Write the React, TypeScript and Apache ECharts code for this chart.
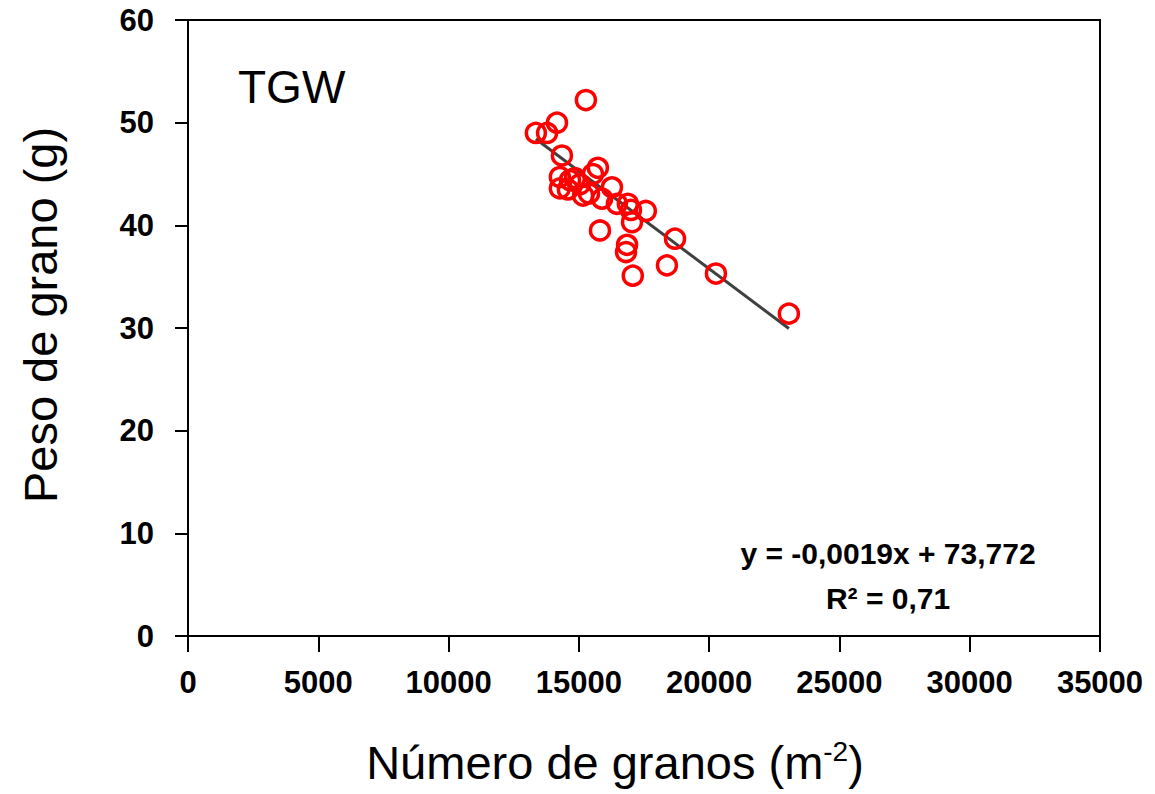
import React, { useEffect, useRef } from "react";
import * as echarts from "echarts";

const grainNumber = [
  13350, 13780, 14160, 15270, 14350, 15730, 15540, 14270, 14660, 14270,
  14580, 15040, 15390, 16270, 15890, 16460, 16880, 17000, 17570, 17040,
  15810, 16850, 16810, 18690, 18380, 17070, 20260, 23060, 15160, 14850,
];
const grainWeight = [
  49.0, 49.0, 50.0, 52.2, 46.8, 45.6, 45.0, 44.7, 44.4, 43.6,
  43.5, 44.0, 43.1, 43.7, 42.6, 42.1, 42.1, 41.5, 41.4, 40.3,
  39.5, 38.1, 37.4, 38.7, 36.1, 35.1, 35.3, 31.4, 42.9, 44.6,
];
const slope = -0.0019;
const intercept = 73.772;
const xTicks = [0, 35000, 5000];
const yTicks = [0, 60, 10];
const eqLine1 = "y = -0,0019x + 73,772";
const eqLine2 = "R² = 0,71";

export default function App() {
  const ref = useRef<HTMLDivElement>(null);
  useEffect(() => {
    if (!ref.current) return;
    const chart = echarts.init(ref.current, undefined, { renderer: "svg" });
    const points = grainNumber.map((x, i) => [x, grainWeight[i]]);
    const xMin = Math.min(...grainNumber);
    const xMax = Math.max(...grainNumber);
    const trend = [
      [xMin, slope * xMin + intercept],
      [xMax, slope * xMax + intercept],
    ];
    const tickFont = {
      fontFamily: "Liberation Sans",
      fontWeight: "bold" as const,
      fontSize: 31,
      color: "#000",
    };
    chart.setOption({
      animation: false,
      backgroundColor: "#fff",
      grid: {
        left: 188,
        right: 55,
        top: 20,
        bottom: 158,
        show: true,
        borderColor: "#000",
        borderWidth: 2,
        backgroundColor: "transparent",
      },
      xAxis: {
        type: "value",
        min: xTicks[0],
        max: xTicks[1],
        interval: xTicks[2],
        axisLine: { show: true, lineStyle: { color: "#000", width: 2 } },
        axisTick: { show: true, inside: false, length: 16, lineStyle: { color: "#000", width: 2 } },
        axisLabel: { ...tickFont, margin: 31, formatter: (v: number) => String(v) },
        splitLine: { show: false },
      },
      yAxis: {
        type: "value",
        min: yTicks[0],
        max: yTicks[1],
        interval: yTicks[2],
        axisLine: { show: true, lineStyle: { color: "#000", width: 2 } },
        axisTick: { show: true, inside: false, length: 13, lineStyle: { color: "#000", width: 2 } },
        axisLabel: { ...tickFont, margin: 34, formatter: (v: number) => String(v) },
        splitLine: { show: false },
      },
      series: [
        {
          type: "line",
          data: trend,
          showSymbol: false,
          symbol: "none",
          lineStyle: { color: "#404040", width: 3 },
          z: 2,
        },
        {
          type: "scatter",
          data: points,
          symbol: "circle",
          symbolSize: 19,
          itemStyle: { color: "transparent", borderColor: "#ff0000", borderWidth: 3.5, opacity: 1 },
          z: 3,
        },
      ],
      graphic: [
        {
          type: "text",
          x: 40,
          y: 315,
          rotation: Math.PI / 2,
          style: {
            text: "Peso de grano (g)",
            fontFamily: "Liberation Sans",
            fontSize: 47,
            fill: "#000",
            textAlign: "center",
            textVerticalAlign: "middle",
          },
        },
        {
          type: "text",
          x: 615,
          y: 762,
          style: {
            text: "Número de granos (m{sup|-2})",
            fontFamily: "Liberation Sans",
            fontSize: 47,
            fill: "#000",
            textAlign: "center",
            textVerticalAlign: "middle",
            rich: {
              sup: {
                fontFamily: "Liberation Sans",
                fontSize: 28,
                fill: "#000",
                verticalAlign: "top",
                padding: [0, 0, 22, 0],
              },
            },
          },
        },
        {
          type: "text",
          x: 238,
          y: 87,
          style: {
            text: "TGW",
            fontFamily: "Liberation Sans",
            fontSize: 46,
            fill: "#000",
            textAlign: "left",
            textVerticalAlign: "middle",
          },
        },
        {
          type: "text",
          x: 888,
          y: 553,
          style: {
            text: eqLine1,
            fontFamily: "Liberation Sans",
            fontWeight: "bold",
            fontSize: 30,
            fill: "#000",
            textAlign: "center",
            textVerticalAlign: "middle",
          },
        },
        {
          type: "text",
          x: 888,
          y: 598,
          style: {
            text: eqLine2,
            fontFamily: "Liberation Sans",
            fontWeight: "bold",
            fontSize: 30,
            fill: "#000",
            textAlign: "center",
            textVerticalAlign: "middle",
          },
        },
      ],
    });
    return () => chart.dispose();
  }, []);
  return (
    <div
      ref={ref}
      style={{ position: "fixed", left: 0, top: 0, width: 1155, height: 794 }}
    />
  );
}
